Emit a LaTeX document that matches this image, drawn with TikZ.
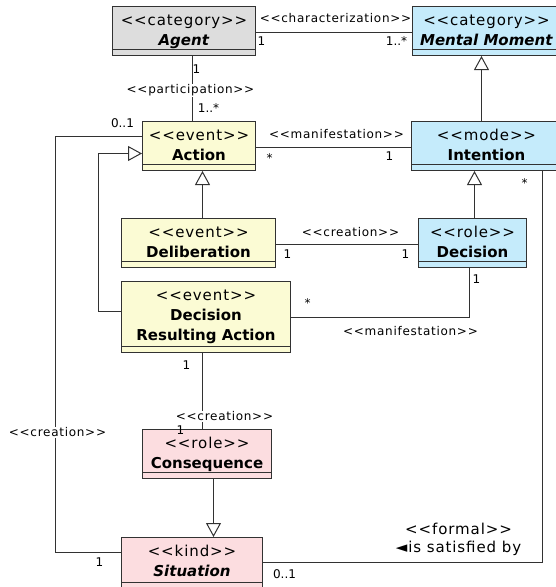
\documentclass[tikz,border=0pt]{standalone}
\usepackage{fontspec}
\setmainfont{DejaVu Sans}
\newfontfamily\stfont[LetterSpace=6]{DejaVu Sans}
\usetikzlibrary{arrows.meta,calc}
\definecolor{cgray}{RGB}{221,221,221}
\definecolor{cblue}{RGB}{197,235,251}
\definecolor{cyellow}{RGB}{251,251,212}
\definecolor{cpink}{RGB}{252,221,224}
\definecolor{cline}{RGB}{50,50,50}
\newcommand\stereo[1]{{\stfont <{}<#1>{}>}}
\tikzset{
  clsbox/.style={draw=cline, line width=1pt, inner sep=0pt, rectangle},
  clstxt/.style={align=center, inner sep=0pt, font=\fontsize{15}{20}\selectfont, text=black},
  conn/.style={draw=cline, line width=1pt},
  gen/.style={conn, -{Triangle[open, length=14pt, width=15pt, fill=white]}},
  lbl/.style={font=\fontsize{12}{14}\selectfont, inner sep=1pt, text=black},
  biglbl/.style={font=\fontsize{15}{18}\selectfont\stfont, inner sep=0pt, text=black},
  mult/.style={font=\fontsize{12}{14}\selectfont, inner sep=0pt, text=black},
}
\newcommand\umlcls[7]{%
  \node[clsbox, fill=#6, minimum width={#4-#2}, minimum height={#5-#3}] (#1) at ({(#2+#4)/2},{(#3+#5)/2}) {};
  \draw[conn] ([yshift=7pt]#1.south west) -- ([yshift=7pt]#1.south east);
  \node[clstxt, anchor=north] (#1t) at ([yshift=-5pt]#1.north) {#7};
}
\begin{document}
\begin{tikzpicture}[x=1pt,y=-1pt]
\useasboundingbox (0,0) rectangle (555,587);
\begin{scope}[shift={(0.5,0.5)}]
% classes
\umlcls{agent}{112}{6}{255}{55}{cgray}{\strut\stereo{category}\\\textbf{\textit{Agent}}}
\umlcls{mental}{412}{6}{560}{55}{cblue}{\strut\stereo{category}\\\textbf{\textit{Mental Moment}}}
\umlcls{action}{142}{121}{255}{170}{cyellow}{\strut\stereo{event}\\\textbf{Action}}
\umlcls{intention}{411}{121}{561}{170}{cblue}{\strut\stereo{mode}\\\textbf{Intention}}
\umlcls{delib}{121}{218}{275}{267}{cyellow}{\strut\stereo{event}\\\textbf{Deliberation}}
\umlcls{decision}{418}{218}{526}{267}{cblue}{\strut\stereo{role}\\\textbf{Decision}}
\umlcls{dra}{121}{281}{290}{352}{cyellow}{\strut\stereo{event}\\\textbf{Decision}\\\textbf{Resulting Action}}
\umlcls{conseq}{142}{429}{271}{478}{cpink}{\strut\stereo{role}\\\textbf{Consequence}}
\umlcls{situation}{121}{537}{262}{588}{cpink}{\strut\stereo{kind}\\\textbf{\textit{Situation}}}
% helper coordinates
\coordinate (xAg) at (192,0);
\coordinate (xDel) at (202,0);
\coordinate (xDec) at (474,0);
\coordinate (xMen) at (481,0);
\coordinate (xCon) at (213,0);
\coordinate (genC) at (98,153);
\coordinate (leftC) at (55,552);
\coordinate (xInt) at (542,0);
% connectors
\draw[conn] ([yshift=-1.5pt]agent.east) -- ([yshift=-1.5pt]mental.west);
\draw[conn] (agent.south -| xAg) -- (action.north -| xAg);
\draw[conn] ([yshift=-1.5pt]action.east) -- ([yshift=-1.5pt]intention.west);
\draw[gen] (intention.north -| xMen) -- (mental.south -| xMen);
\draw[gen] (decision.north -| xDec) -- (intention.south -| xDec);
\draw[gen] (delib.north -| xDel) -- (action.south -| xDel);
\draw[conn] ([yshift=-1.5pt]delib.east) -- ([yshift=-1.5pt]decision.west);
\draw[conn] ([yshift=-0.5pt]dra.east) -| ([xshift=-3pt]decision.south);
\draw[gen] ([yshift=5.5pt]dra.west) -| (genC) -- (genC -| action.west);
\draw[conn] ([yshift=9.5pt]action.west) -| (leftC) -- (leftC -| situation.west);
\draw[conn] (dra.south -| xDel) -- (conseq.north -| xDel);
\draw[gen] (conseq.south -| xCon) -- (situation.north -| xCon);
\draw[conn] (intention.south -| xInt) |- ([yshift=0.5pt]situation.east);
% labels
\node[lbl] (lChar) at (335,18) {\stereo{characterization}};
\node[mult] (m1) at (261,41) {1};
\node[mult] (m2) at (396,41) {1..*};
\node[mult] (m3) at (196,69) {1};
\node[lbl, fill=white] (lPart) at (190,90) {\stereo{participation}};
\node[mult] (m4) at (208,108) {1..*};
\node[mult] (m5) at (122,123) {0..1};
\node[lbl] (lMan1) at (336,134) {\stereo{manifestation}};
\node[mult] (m6) at (269,158) {*};
\node[mult] (m7) at (389,156) {1};
\node[mult] (m8) at (524,183) {*};
\node[lbl] (lCre1) at (350,232) {\stereo{creation}};
\node[mult] (m9) at (287,254) {1};
\node[mult] (m10) at (405,254) {1};
\node[mult] (m11) at (476,279) {1};
\node[mult] (m12) at (307,303) {*};
\node[lbl] (lMan2) at (410,331) {\stereo{manifestation}};
\node[mult] (m13) at (186,365) {1};
\node[lbl, fill=white] (lCre2) at (224,416) {\stereo{creation}};
\node[mult] (m14) at (180,430) {1};
\node[lbl, fill=white] (lCre3) at (57,432) {\stereo{creation}};
\node[mult] (m15) at (99,562) {1};
\node[mult] (m16) at (284,574) {0..1};
\node[biglbl] (lForm) at (458,528) {<{}<formal>{}>};
\node[biglbl] (lSat) at (458,548) {◄is satisfied by};
\end{scope}
\end{tikzpicture}
\end{document}
